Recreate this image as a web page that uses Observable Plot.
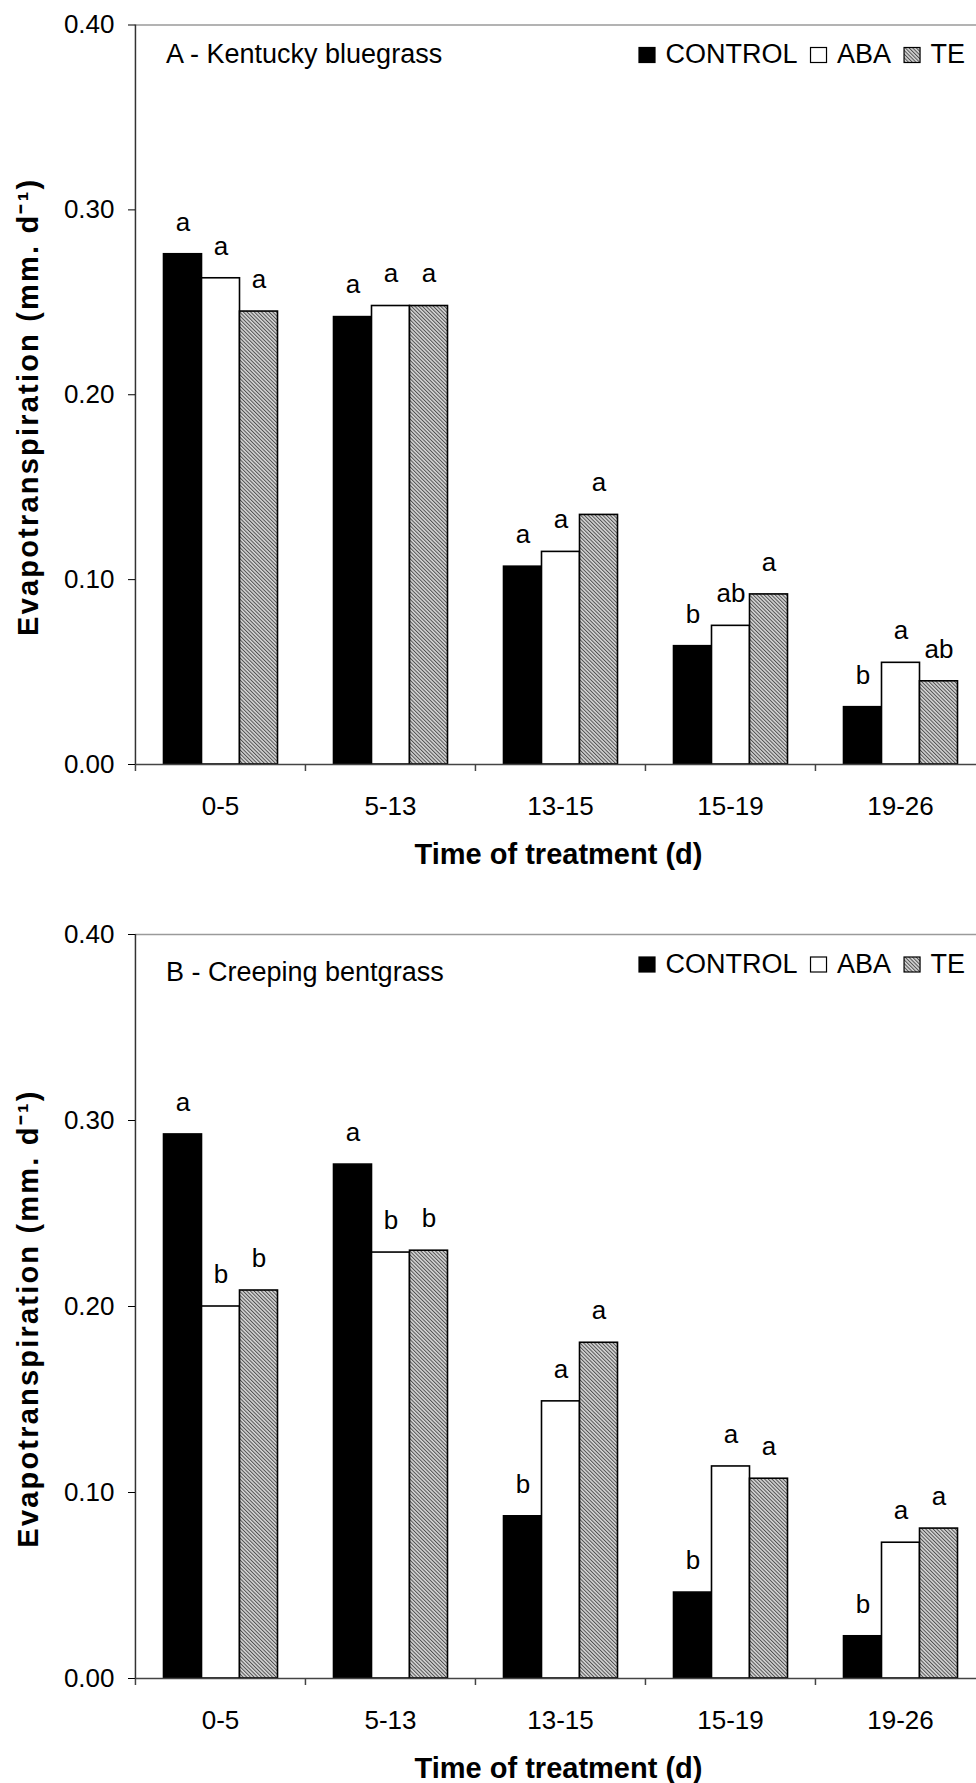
<!DOCTYPE html>
<html>
<head>
<meta charset="utf-8">
<script src="https://cdn.jsdelivr.net/npm/d3@7"></script>
<script src="https://cdn.jsdelivr.net/npm/@observablehq/plot@0.6"></script>
<style>
  html, body { margin: 0; padding: 0; background: #fff; overflow: hidden; }
  #charts svg { display: block; }
</style>
</head>
<body>
<!-- shared fill pattern for the TE bars -->
<svg width="0" height="0" style="position:absolute">
  <defs>
    <pattern id="hatch" width="2.6" height="2.6" patternUnits="userSpaceOnUse" patternTransform="rotate(-45)">
      <rect width="2.6" height="2.6" fill="#d6d6d6"></rect>
      <line x1="0.5" y1="0" x2="0.5" y2="2.6" stroke="#505050" stroke-width="1"></line>
    </pattern>
  </defs>
</svg>
<div id="charts"></div>
<script>
// Treatment periods (days) and treatments
const periods = ["0-5", "5-13", "13-15", "15-19", "19-26"];
const treatments = ["CONTROL", "ABA", "TE"];
const yTicks = [0, 0.1, 0.2, 0.3, 0.4];

// A - Kentucky bluegrass, evapotranspiration (mm d-1)
const kbControl = [0.276, 0.242, 0.107, 0.064, 0.031];
const kbAba     = [0.263, 0.248, 0.115, 0.075, 0.055];
const kbTe      = [0.245, 0.248, 0.135, 0.092, 0.045];
const kbControlLetters = ["a", "a", "a", "b", "b"];
const kbAbaLetters     = ["a", "a", "a", "ab", "a"];
const kbTeLetters      = ["a", "a", "a", "a", "ab"];

// B - Creeping bentgrass, evapotranspiration (mm d-1)
const cbControl = [0.2925, 0.2763, 0.0872, 0.0462, 0.0227];
const cbAba     = [0.200, 0.229, 0.149, 0.114, 0.073];
const cbTe      = [0.2086, 0.230, 0.1805, 0.1074, 0.0806];
const cbControlLetters = ["a", "a", "b", "b", "b"];
const cbAbaLetters     = ["b", "b", "a", "a", "a"];
const cbTeLetters      = ["b", "b", "a", "a", "a"];

const yTitle = "Evapotranspiration (mm. d\u207B\u00B9)";
const xTitle = "Time of treatment (d)";

function tidy(series, letters) {
  const rows = [];
  treatments.forEach((t, j) => {
    periods.forEach((p, i) => {
      rows.push({period: p, treatment: t, value: series[j][i], letter: letters[j][i]});
    });
  });
  return rows;
}

const W = 1000, ML = 134.5, MR = 15;
const facetW = (W - ML - MR) / periods.length;
const FONT = "'Liberation Sans', Arial, Helvetica, sans-serif";

function panel({title, rows, height, marginTop, marginBottom, titleDy}) {
  return Plot.plot({
    width: W,
    height,
    marginLeft: ML,
    marginRight: MR,
    marginTop,
    marginBottom,
    style: {fontFamily: FONT, fontSize: "26px", color: "black", background: "white", overflow: "visible", maxWidth: "none"},
    fx: {domain: periods, padding: 0},
    x: {domain: treatments, paddingInner: 0, paddingOuter: 0.72, axis: null},
    y: {domain: [0, 0.4]},
    color: {domain: treatments, range: ["black", "white", "url(#hatch)"]},
    marks: [
      Plot.ruleY([0.4], {stroke: "#9a9a9a", strokeWidth: 1.5}),
      Plot.barY(rows, {fx: "period", x: "treatment", y: "value", fill: "treatment", stroke: "black", strokeWidth: 1.6}),
      Plot.ruleY([0], {stroke: "#444", strokeWidth: 1.5}),
      // category boundary ticks below the baseline
      Plot.ruleX(periods, {fx: d => d, x: null, y1: 0, y2: 0, insetBottom: -7, dx: -facetW / 2, stroke: "#444", strokeWidth: 1.5}),
      // left axis line
      Plot.ruleX([periods[0]], {fx: d => d, x: null, y1: 0, y2: 0.4, dx: -facetW / 2, stroke: "#333", strokeWidth: 1.5}),
      Plot.axisY({ticks: yTicks, tickFormat: ".2f", tickSize: 7, tickPadding: 14, fontSize: 26, label: null}),
      Plot.axisFx({anchor: "bottom", tickSize: 0, tickPadding: 32, fontSize: 26, label: null}),
      Plot.text(rows, {fx: "period", x: "treatment", y: "value", text: "letter", dy: -32, fontSize: 26}),
      Plot.text([title], {fx: () => periods[0], frameAnchor: "top-left", textAnchor: "start", lineAnchor: "top", dx: 30.5, dy: titleDy, fontSize: 27}),
      Plot.text([yTitle], {fx: () => periods[0], frameAnchor: "left", textAnchor: "middle", rotate: -90, dx: -106.5, dy: 12, fontWeight: "bold", fontSize: 29}),
      Plot.text([xTitle], {fx: () => periods[2], frameAnchor: "bottom", lineAnchor: "top", dx: -2, dy: 79, fontWeight: "bold", fontSize: 29})
    ]
  });
}

// inline legend in the upper right of a panel (drawn once the svg is in the page)
function addLegend(svg, marginTop) {
  const g = d3.select(svg).append("g")
    .attr("font-family", FONT).attr("font-size", 27).attr("fill", "black")
    .attr("text-anchor", "start");
  const fills = ["black", "white", "url(#hatch)"];
  const baseline = marginTop + 38.5;
  let x = 639;
  treatments.forEach((t, j) => {
    g.append("rect").attr("x", x).attr("y", baseline - 15.5).attr("width", 16).attr("height", 15)
      .attr("fill", fills[j]).attr("stroke", "black").attr("stroke-width", 1.2);
    x += 16 + 10.5;
    const txt = g.append("text").attr("x", x).attr("y", baseline).text(t);
    x += txt.node().getComputedTextLength() + 13;
  });
  // the rotated axis title is set a little wider
  d3.select(svg).selectAll("text")
    .filter(function () { return this.textContent === yTitle; })
    .attr("letter-spacing", 2.2);
}

const container = document.getElementById("charts");
const topSvg = panel({
  title: "A - Kentucky bluegrass",
  rows: tidy([kbControl, kbAba, kbTe], [kbControlLetters, kbAbaLetters, kbTeLetters]),
  height: 880, marginTop: 24.5, marginBottom: 116, titleDy: 19
});
container.appendChild(topSvg);
addLegend(topSvg, 24.5);
const bottomSvg = panel({
  title: "B - Creeping bentgrass",
  rows: tidy([cbControl, cbAba, cbTe], [cbControlLetters, cbAbaLetters, cbTeLetters]),
  height: 903, marginTop: 54, marginBottom: 105, titleDy: 27.5
});
container.appendChild(bottomSvg);
addLegend(bottomSvg, 54);
</script>
</body>
</html>
